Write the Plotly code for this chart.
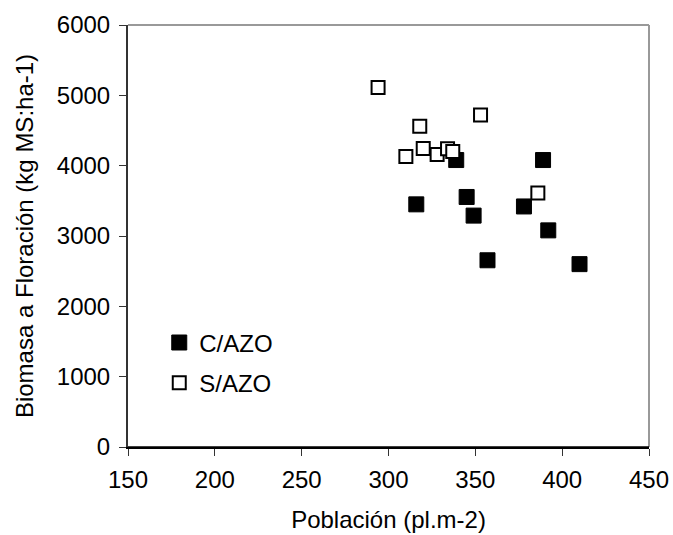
import plotly.graph_objects as go

# C/AZO (filled squares)
c_azo_x = [316, 339, 345, 349, 357, 378, 389, 392, 410]
c_azo_y = [3450, 4080, 3555, 3290, 2655, 3420, 4080, 3080, 2600]

# S/AZO (open squares)
s_azo_x = [294, 310, 318, 320, 328, 334, 337, 353, 386]
s_azo_y = [5110, 4130, 4560, 4245, 4160, 4240, 4200, 4720, 3610]

series_names = ["C/AZO", "S/AZO"]
x_ticks = [150, 200, 250, 300, 350, 400, 450]
y_ticks = [0, 1000, 2000, 3000, 4000, 5000, 6000]

FONT = "Liberation Sans, Arial, sans-serif"
FS = 24

fig = go.Figure()
fig.add_trace(go.Scatter(
    x=c_azo_x, y=c_azo_y, mode="markers", name=series_names[0],
    legendgroup="c",
    marker=dict(symbol="square", size=15, color="black",
                line=dict(color="black", width=1)),
))
fig.add_trace(go.Scatter(
    x=s_azo_x, y=s_azo_y, mode="markers", name=series_names[1],
    legendgroup="s",
    marker=dict(symbol="square", size=13, color="white",
                line=dict(color="black", width=2)),
))

fig.update_layout(
    width=673, height=535,
    margin=dict(l=128, r=24, t=25, b=88),
    paper_bgcolor="white", plot_bgcolor="white",
    font=dict(family=FONT, size=FS, color="black"),
    showlegend=True,
    legend=dict(x=0.06, y=0.30, xanchor="left", yanchor="top",
                bgcolor="rgba(0,0,0,0)", font=dict(size=FS),
                itemsizing="trace", tracegroupgap=6, traceorder="grouped"),
    xaxis=dict(
        range=[150, 450], tickvals=x_ticks, ticks="outside", ticklen=7,
        tickcolor="#333", showgrid=False, zeroline=False,
        showline=True, linecolor="black", linewidth=1.5,
        ticklabelstandoff=3, automargin=False,
        title=dict(text="Población (pl.m-2)", font=dict(size=FS), standoff=20),
        tickfont=dict(size=FS),
    ),
    yaxis=dict(
        range=[0, 6000], tickvals=y_ticks, ticks="outside", ticklen=7,
        tickcolor="#333", showgrid=False, zeroline=False,
        showline=True, linecolor="#333", linewidth=2,
        ticklabelstandoff=4, automargin=False,
        title=dict(text="Biomasa a Floración (kg MS:ha-1)", font=dict(size=FS), standoff=16),
        tickfont=dict(size=FS),
    ),
    shapes=[
        dict(type="line", xref="paper", yref="paper", x0=0, x1=1, y0=1, y1=1,
             line=dict(color="#999", width=2)),
        dict(type="line", xref="paper", yref="paper", x0=1, x1=1, y0=0, y1=1,
             line=dict(color="#999", width=2)),
        dict(type="line", xref="paper", yref="paper", x0=0, x1=1, y0=0, y1=0,
             line=dict(color="black", width=1.5)),
    ],
)

fig.write_html("out.html")
